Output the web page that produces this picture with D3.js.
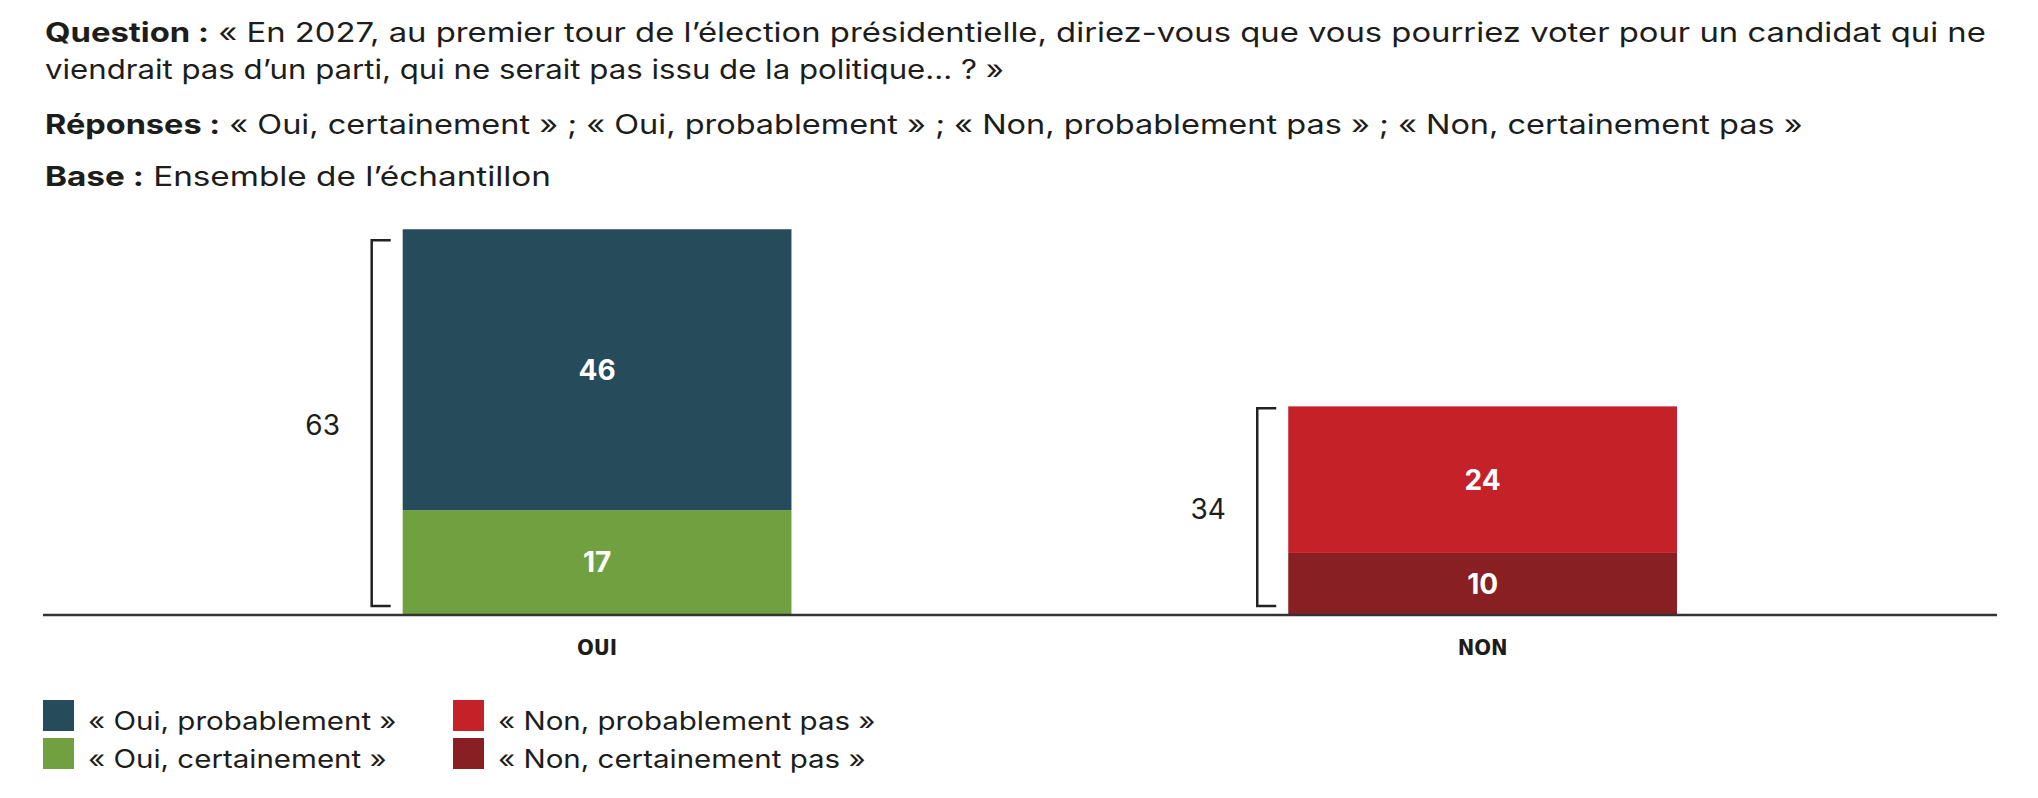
<!DOCTYPE html>
<html>
<head>
<meta charset="utf-8">
<script src="https://cdn.jsdelivr.net/npm/d3@7"></script>
<style>
  body { margin: 0; background: #fff; }
  svg text { font-family: Inter, "Open Sans", sans-serif; fill: #1d1d1b; }
</style>
</head>
<body>
<script>
// data
const categories = ["OUI", "NON"]
const certainValues = [17, 10]
const probableValues = [46, 24]
const totals = [63, 34]
const certainLabels = ["« Oui, certainement »", "« Non, certainement pas »"]
const probableLabels = ["« Oui, probablement »", "« Non, probablement pas »"]

const titleLines = [
  [["Question :", true], [" « En 2027, au premier tour de l’élection présidentielle, diriez-vous que vous pourriez voter pour un candidat qui ne", false]],
  [["viendrait pas d’un parti, qui ne serait pas issu de la politique… ? »", false]],
  [["Réponses :", true], [" « Oui, certainement » ; « Oui, probablement » ; « Non, probablement pas » ; « Non, certainement pas »", false]],
  [["Base :", true], [" Ensemble de l’échantillon", false]]
]

const w = 2038
const h = 798

// colours per category: [certain, probable]
const colors = [["#71a041", "#264b5a"], ["#871f23", "#c42129"]]

const table = categories.map((c, i) => ({ cat: c, certain: certainValues[i], probable: probableValues[i] }))
const stacked = d3.stack().keys(["certain", "probable"])(table)

const svg = d3.select("body")
  .append("svg")
  .attr("width", w)
  .attr("height", h)

// header (glyphs stretched to get the wide look of the original face)
const lineY = [42, 79, 134, 186]
const lineEnd = [1987, 1004, 1803, 551]
titleLines.forEach((parts, i) => {
  const g = svg.append("g")
  const t = g.append("text")
    .attr("x", 0)
    .attr("y", 0)
    .attr("font-size", "27px")
  parts.forEach(p => {
    t.append("tspan")
      .attr("font-weight", p[1] ? 700 : 400)
      .text(p[0])
  })
  const sx = (lineEnd[i] - 45) / t.node().getComputedTextLength()
  g.attr("transform", `translate(45,${lineY[i]}) scale(${sx},1)`)
})

const xScale = d3.scaleBand()
  .domain(categories)
  .range([154.3, 1925.4])
  .paddingInner(0.561)
  .paddingOuter(0.2805)

const yScale = d3.scaleLinear()
  .domain([0, 100])
  .range([614, 3.3])

// bars
const layers = svg.selectAll("g.layer")
  .data(stacked)
  .enter()
  .append("g")
  .attr("class", "layer")

layers.selectAll("rect")
  .data((d, li) => d.map((s, ci) => ({ s: s, li: li, ci: ci })))
  .enter()
  .append("rect")
  .attr("x", d => xScale(d.s.data.cat))
  .attr("y", d => yScale(d.s[1]))
  .attr("width", xScale.bandwidth())
  .attr("height", d => yScale(d.s[0]) - yScale(d.s[1]))
  .attr("fill", d => colors[d.ci][d.li])

layers.selectAll("text.val")
  .data((d, li) => d.map((s, ci) => ({ s: s, li: li, ci: ci })))
  .enter()
  .append("text")
  .attr("class", "val")
  .attr("x", d => xScale(d.s.data.cat) + xScale.bandwidth() / 2)
  .attr("y", d => (yScale(d.s[0]) + yScale(d.s[1])) / 2)
  .attr("dy", "0.36em")
  .attr("text-anchor", "middle")
  .attr("font-size", "28px")
  .attr("font-weight", 700)
  .style("fill", "#fff")
  .text(d => d.s[1] - d.s[0])

// brackets with totals
const bracketInset = [11, 2]
categories.forEach((c, i) => {
  const bx = xScale(c) - 31
  const top = yScale(totals[i]) + bracketInset[i]
  const bottom = yScale(0) - 8
  svg.append("path")
    .attr("d", `M${bx + 19},${top}H${bx}V${bottom}H${bx + 19}`)
    .attr("fill", "none")
    .attr("stroke", "#222")
    .attr("stroke-width", 2.5)
  svg.append("text")
    .attr("x", bx - 49)
    .attr("y", (top + bottom) / 2 + 2)
    .attr("dy", "0.36em")
    .attr("text-anchor", "middle")
    .attr("font-size", "28px")
    .text(totals[i])
})

// baseline
svg.append("line")
  .attr("x1", 43)
  .attr("x2", 1997)
  .attr("y1", 615)
  .attr("y2", 615)
  .attr("stroke", "#333")
  .attr("stroke-width", 2.5)

// category labels
const xAxis = svg.append("g")
  .attr("transform", "translate(0,614)")
  .call(d3.axisBottom(xScale).tickSize(0).tickPadding(25))
xAxis.select(".domain").remove()
xAxis.selectAll("text")
  .attr("font-size", "22px")
  .attr("font-weight", 700)
  .style("font-family", "'Liberation Sans Narrow', 'DejaVu Sans Condensed', Inter, sans-serif")
  .style("fill", "#1d1d1b")

// legend
const legendCols = [43, 453]
const legendRows = [700, 738]
categories.forEach((c, i) => {
  const items = [[probableLabels[i], colors[i][1]], [certainLabels[i], colors[i][0]]]
  items.forEach((it, r) => {
    svg.append("rect")
      .attr("x", legendCols[i])
      .attr("y", legendRows[r])
      .attr("width", 31)
      .attr("height", 31)
      .attr("fill", it[1])
    svg.append("text")
      .attr("transform", `translate(${legendCols[i] + 45},${legendRows[r] + 30}) scale(1.18,1)`)
      .attr("font-size", "25px")
      .text(it[0])
  })
})
</script>
</body>
</html>
